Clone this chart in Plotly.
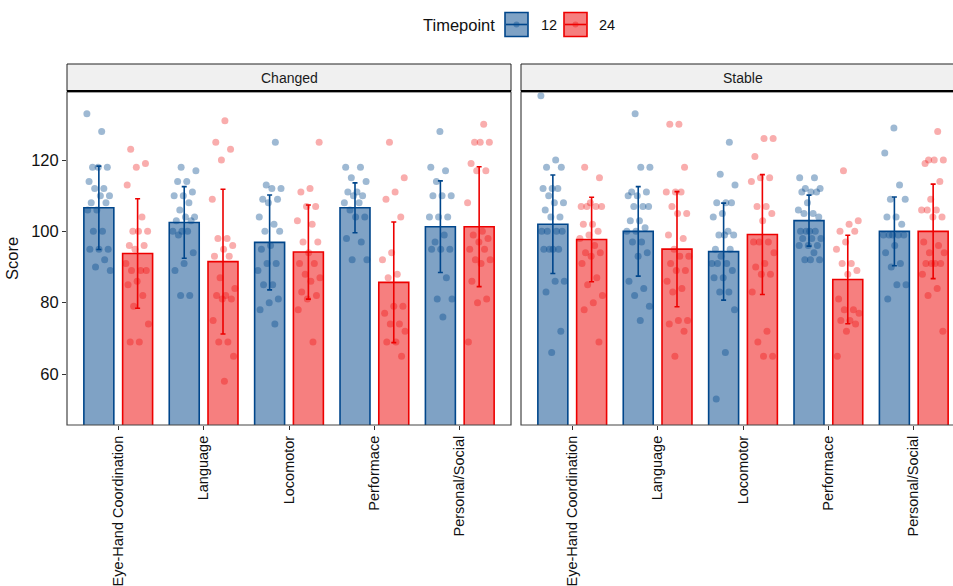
import plotly.graph_objects as go

# ---------------- data ----------------
domains = ["Eye-Hand Coordination", "Language", "Locomotor", "Performace", "Personal/Social"]
panels = ["Changed", "Stable"]
timepoints = ["12", "24"]

# bar heights (means) and error bar half-lengths (sd)
changed_mean_12 = [106.6, 102.5, 96.9, 106.6, 101.3]
changed_sd_12 = [11.7, 10.05, 13.3, 7.0, 12.85]
changed_mean_24 = [93.8, 91.5, 94.2, 85.7, 101.3]
changed_sd_24 = [15.35, 20.3, 13.2, 16.9, 16.8]
stable_mean_12 = [102.0, 100.0, 94.3, 103.0, 100.0]
stable_sd_12 = [13.8, 12.55, 13.6, 7.15, 9.65]
stable_mean_24 = [97.7, 95.0, 99.1, 86.5, 100.0]
stable_sd_24 = [11.85, 16.15, 16.8, 12.4, 13.25]

# individual scores
ch_eh_12 = [133, 128, 118, 118, 118, 114, 112, 112, 110, 110, 108, 108, 106, 106, 100, 100, 95, 95, 95, 92, 90, 89]
ch_eh_24 = [123, 119, 118, 113, 104, 100, 100, 100, 96, 96, 95, 91, 89, 89, 89, 86, 85, 82, 79, 74, 69, 69]
ch_la_12 = [118, 117, 114, 114, 111, 110, 110, 108, 106, 104, 104, 103, 103, 100, 100, 100, 99, 94, 91, 89, 82, 82]
ch_la_24 = [131, 125, 123, 120, 109, 98, 98, 96, 95, 93, 93, 87, 84, 82, 82, 81, 81, 75, 69, 69, 65, 58]
ch_lo_12 = [125, 113, 112, 112, 109, 109, 108, 104, 102, 100, 100, 96, 95, 91, 91, 89, 85, 85, 81, 80, 78, 74]
ch_lo_24 = [125, 112, 111, 107, 107, 103, 102, 97, 97, 94, 91, 91, 88, 87, 86, 83, 82, 81, 78, 69]
ch_pe_12 = [118, 118, 115, 114, 111, 111, 110, 110, 108, 108, 106, 104, 104, 98, 97, 92, 92]
ch_pe_24 = [125, 115, 111, 109, 104, 94, 92, 88, 87, 79, 79, 77, 74, 74, 72, 69, 69, 65]
ch_ps_12 = [128, 118, 117, 114, 110, 110, 110, 104, 104, 104, 99, 97, 95, 95, 95, 87, 81, 81, 76]
ch_ps_24 = [130, 125, 125, 125, 119, 117, 117, 108, 100, 99, 98, 97, 95, 95, 92, 92, 91, 86, 81, 80, 69]

st_eh_12 = [138, 120, 118, 118, 112, 112, 112, 110, 108, 108, 106, 104, 104, 100, 100, 100, 100, 95, 95, 95, 95, 86, 86, 83, 72, 66]
st_eh_24 = [118, 115, 108, 107, 107, 107, 107, 102, 102, 100, 99, 98, 96, 94, 94, 93, 91, 87, 85, 82, 80, 78, 69]
st_la_12 = [133, 118, 118, 111, 111, 110, 110, 107, 107, 107, 103, 103, 101, 100, 100, 97, 97, 94, 93, 86, 84, 82, 79, 75]
st_la_24 = [130, 130, 118, 111, 111, 111, 107, 105, 105, 99, 98, 95, 93, 93, 91, 89, 89, 86, 84, 83, 75, 75, 74, 72, 65]
st_lo_12 = [125, 116, 113, 108, 108, 108, 105, 104, 100, 99, 99, 99, 95, 95, 93, 91, 91, 91, 89, 87, 87, 83, 83, 78, 66, 53]
st_lo_24 = [126, 126, 121, 115, 115, 114, 107, 107, 105, 103, 97, 97, 97, 94, 91, 90, 88, 88, 83, 72, 69, 65, 65]
st_pe_12 = [115, 115, 112, 112, 111, 111, 111, 108, 106, 105, 105, 104, 100, 100, 100, 100, 98, 98, 98, 96, 96, 96, 94, 92, 92, 92]
st_pe_24 = [117, 103, 102, 100, 100, 97, 95, 91, 91, 89, 88, 81, 78, 78, 77, 75, 75, 74, 72, 65]
st_ps_12 = [129, 122, 113, 109, 109, 104, 104, 102, 99, 99, 99, 99, 99, 96, 94, 91, 90, 85, 85, 81]
st_ps_24 = [128, 120, 120, 120, 119, 114, 109, 106, 106, 106, 104, 104, 97, 96, 94, 94, 91, 91, 91, 91, 88, 84, 82, 72]

y_ticks = [60, 80, 100, 120]

# ---------------- assembly ----------------
means = {("Changed", "12"): changed_mean_12, ("Changed", "24"): changed_mean_24,
         ("Stable", "12"): stable_mean_12, ("Stable", "24"): stable_mean_24}
sds = {("Changed", "12"): changed_sd_12, ("Changed", "24"): changed_sd_24,
       ("Stable", "12"): stable_sd_12, ("Stable", "24"): stable_sd_24}
points = {
    ("Changed", "12"): [ch_eh_12, ch_la_12, ch_lo_12, ch_pe_12, ch_ps_12],
    ("Changed", "24"): [ch_eh_24, ch_la_24, ch_lo_24, ch_pe_24, ch_ps_24],
    ("Stable", "12"): [st_eh_12, st_la_12, st_lo_12, st_pe_12, st_ps_12],
    ("Stable", "24"): [st_eh_24, st_la_24, st_lo_24, st_pe_24, st_ps_24],
}

W, H = 953, 586
FONT = "Liberation Sans, Arial, Helvetica, sans-serif"
line_col = {"12": "#00468B", "24": "#ED0000"}
fill_col = {"12": "rgba(0,70,139,0.5)", "24": "rgba(237,0,0,0.5)"}
pt_col = {"12": "rgba(0,70,139,0.38)", "24": "rgba(237,0,0,0.32)"}
dodge = {"12": -0.227, "24": 0.227}
BAR_W = 0.351
JIT = 0.14

# pixel geometry (in screen pixels)
px_per_unit = 444 / 5.2
L1, R1 = 67, 511
L2, R2 = 521, 965
TOP, BOT = 92, 425

def px(x):
    return x / W

def py(y):
    return 1 - y / H

fig = go.Figure()
for pi, panel in enumerate(panels):
    xa = "x" if pi == 0 else "x2"
    for tp in timepoints:
        xs = [i + dodge[tp] for i in range(len(domains))]
        fig.add_trace(go.Bar(
            x=xs, y=means[(panel, tp)], width=BAR_W, xaxis=xa, yaxis="y",
            marker=dict(color=fill_col[tp], line=dict(color=line_col[tp], width=1.6)),
            showlegend=False, hoverinfo="skip",
        ))
    for tp in timepoints:
        px_, py_ = [], []
        for i, vals in enumerate(points[(panel, tp)]):
            for k, v in enumerate(vals):
                frac = ((k * 0.6180339887 + i * 0.37 + (0.21 if tp == "24" else 0.0)) % 1.0)
                px_.append(i + dodge[tp] + (frac - 0.5) * 2 * JIT)
                py_.append(v)
        fig.add_trace(go.Scatter(
            x=px_, y=py_, mode="markers", xaxis=xa, yaxis="y",
            marker=dict(size=7, color=pt_col[tp], line=dict(width=0)),
            showlegend=False, hoverinfo="skip",
        ))
    for tp in timepoints:
        xs = [i + dodge[tp] for i in range(len(domains))]
        fig.add_trace(go.Scatter(
            x=xs, y=means[(panel, tp)], mode="markers", xaxis=xa, yaxis="y",
            marker=dict(size=1, color="rgba(0,0,0,0)"),
            error_y=dict(type="data", array=sds[(panel, tp)], color=line_col[tp],
                         thickness=1.6, width=2.5),
            showlegend=False, hoverinfo="skip",
        ))

axis_common = dict(
    tickmode="array", tickvals=list(range(len(domains))), ticktext=domains,
    tickangle=-90, ticks="outside", ticklen=4, tickwidth=1, tickcolor="#333333",
    showgrid=False, zeroline=False, showline=False,
    tickfont=dict(family=FONT, size=14.5, color="#111111"),
)
fig.update_layout(
    width=W, height=H,
    margin=dict(l=0, r=0, t=0, b=0),
    paper_bgcolor="white", plot_bgcolor="white",
    barmode="overlay",
    font=dict(family=FONT, color="#111111"),
    xaxis=dict(domain=[px(L1), px(R1)], range=[-0.6, 4.6], anchor="y", **axis_common),
    xaxis2=dict(domain=[px(L2), 1.0], range=[-0.6, -0.6 + (W - L2) / px_per_unit], anchor="y2", **axis_common),
    yaxis=dict(domain=[py(BOT), py(TOP)], range=[45.7, 139.07], tickvals=y_ticks,
               ticks="outside", ticklen=4, tickcolor="#333333", showgrid=False, zeroline=False,
               tickfont=dict(family=FONT, size=16.5, color="#111111"),
               title=dict(text="Score", font=dict(family=FONT, size=16.5, color="#111111"), standoff=8),
               anchor="x"),
    yaxis2=dict(domain=[py(BOT), py(TOP)], range=[45.7, 139.07], matches="y",
                showticklabels=False, ticks="", showgrid=False, zeroline=False, anchor="x2"),
    showlegend=False,
)

shapes = []
for (l, r) in [(L1, R1), (L2, R2)]:
    shapes.append(dict(type="rect", xref="paper", yref="paper", x0=px(l), x1=px(r), y0=py(BOT), y1=py(TOP),
                       line=dict(color="#444444", width=1.2), fillcolor="rgba(0,0,0,0)", layer="above"))
    shapes.append(dict(type="rect", xref="paper", yref="paper", x0=px(l), x1=px(r), y0=py(91), y1=py(64),
                       line=dict(color="#222222", width=1), fillcolor="#F0F0F0", layer="above"))
    shapes.append(dict(type="line", xref="paper", yref="paper", x0=px(l), x1=px(r), y0=py(91), y1=py(91),
                       line=dict(color="#000000", width=2.2), layer="above"))

annotations = []
for name, (l, r) in zip(panels, [(L1, R1), (L2, R2)]):
    annotations.append(dict(text=name, xref="paper", yref="paper", x=px((l + r) / 2), y=py(77.5),
                            showarrow=False, xanchor="center", yanchor="middle",
                            font=dict(family=FONT, size=14, color="#1a1a1a")))

# legend (drawn)
annotations.append(dict(text="Timepoint", xref="paper", yref="paper", x=px(497), y=py(25),
                        showarrow=False, xanchor="right", yanchor="middle",
                        font=dict(family=FONT, size=16.5, color="#111111")))
for tp, x0, lx in [("12", 505, 539), ("24", 564, 597)]:
    shapes.append(dict(type="rect", xref="paper", yref="paper", x0=px(x0), x1=px(x0 + 23), y0=py(36.5), y1=py(12.5),
                       line=dict(color=line_col[tp], width=1.6), fillcolor=fill_col[tp]))
    shapes.append(dict(type="line", xref="paper", yref="paper", x0=px(x0 + 1), x1=px(x0 + 22), y0=py(24.5), y1=py(24.5),
                       line=dict(color=line_col[tp], width=1.6)))
    shapes.append(dict(type="circle", xref="paper", yref="paper", x0=px(x0 + 8.5), x1=px(x0 + 14.5), y0=py(27.5), y1=py(21.5),
                       line=dict(width=0), fillcolor=pt_col[tp]))
    annotations.append(dict(text=tp, xref="paper", yref="paper", x=px(lx), y=py(25),
                            showarrow=False, xanchor="left", yanchor="middle",
                            font=dict(family=FONT, size=14.5, color="#111111")))

fig.update_layout(shapes=shapes, annotations=annotations)
fig.write_html(
    "out.html",
    config={"displayModeBar": False},
    post_script="document.documentElement.style.overflow='hidden';"
                "document.body.style.overflow='hidden';document.body.style.margin='0';",
)
